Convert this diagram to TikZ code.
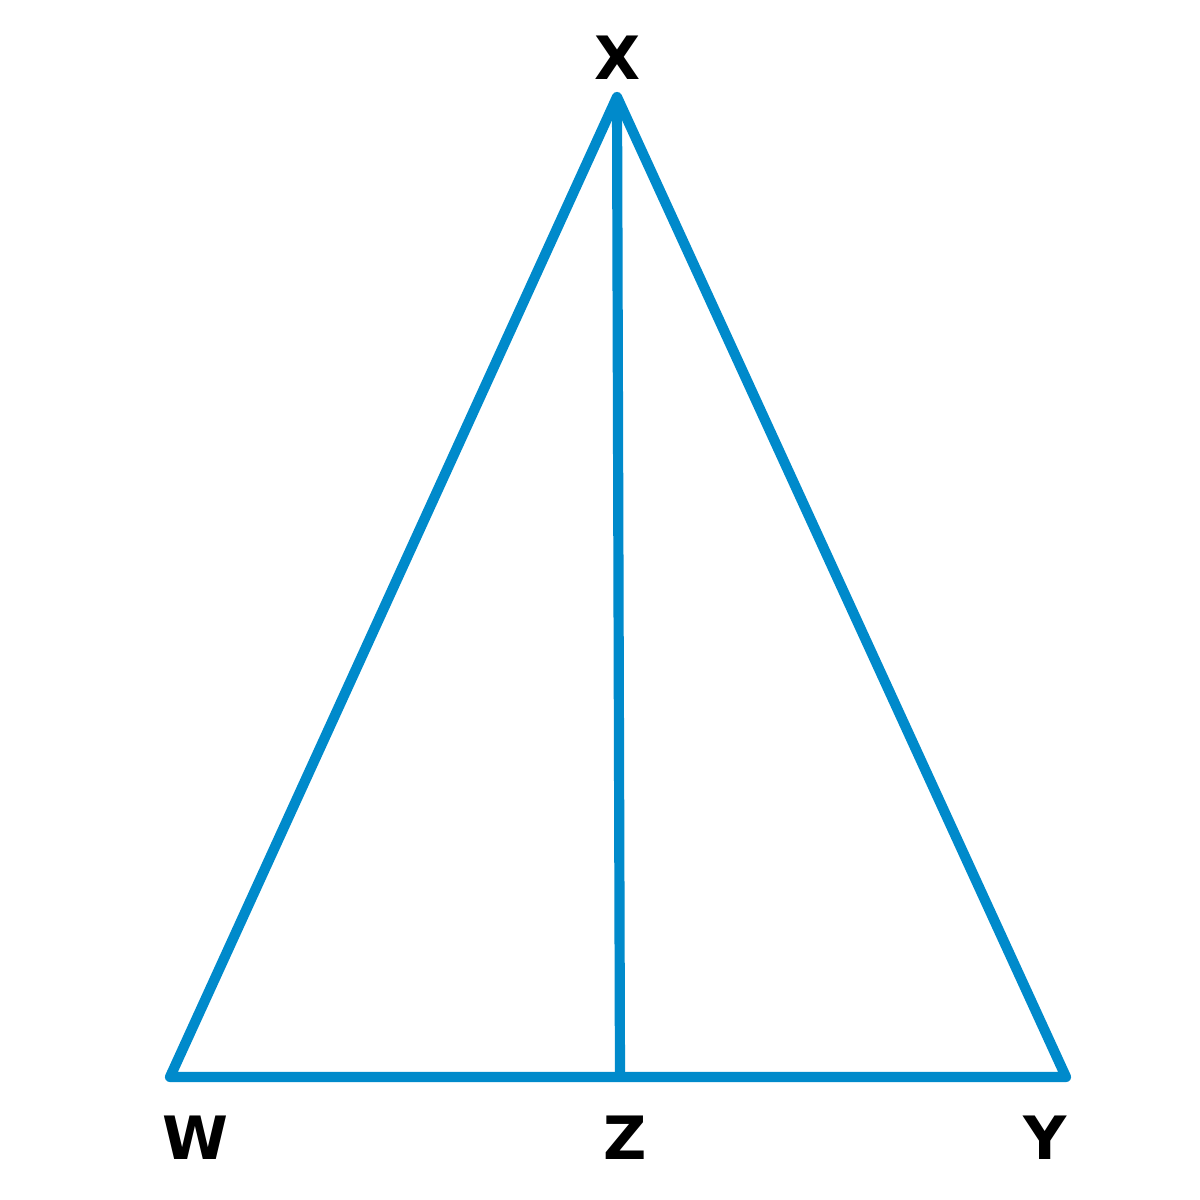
\documentclass[tikz,border=0pt]{standalone}
\usepackage{fontspec}
\setmainfont{DejaVu Sans}
\definecolor{sideblue}{RGB}{0,138,203}
\begin{document}
\begin{tikzpicture}[scale=1,
    side/.style={sideblue, line width=2.9pt, line join=round},
    lbl/.style={font=\fontsize{17}{17}\selectfont\bfseries, inner sep=0pt}]
    \useasboundingbox (0,0) rectangle (12,12);
    % vertices
    \coordinate (W) at (1.70,1.23);
    \coordinate (Y) at (10.66,1.23);
    \coordinate (X) at (6.17,11.03);
    \coordinate (Z) at (6.20,1.23);
    \draw[side] (W) -- (X) -- (Y) -- cycle;
    \draw[side] (X) -- (Z);
    % labels
    \node[lbl] (lX) at (6.18,11.42) {X};
    \node[lbl] (lW) at (1.95,0.62) {W};
    \node[lbl] (lZ) at (6.25,0.62) {Z};
    \node[lbl] (lY) at (10.45,0.62) {Y};
\end{tikzpicture}
\end{document}
